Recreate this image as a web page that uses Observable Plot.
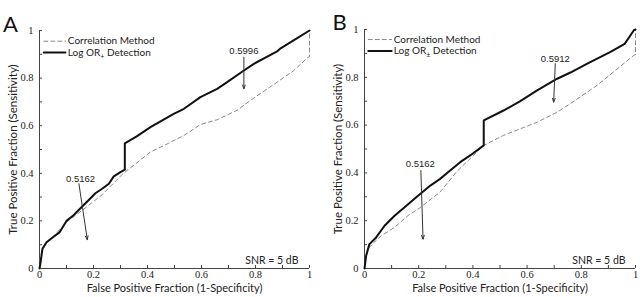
<!DOCTYPE html>
<html>
<head>
<meta charset="utf-8">
<script src="https://cdn.jsdelivr.net/npm/d3@7"></script>
<script src="https://cdn.jsdelivr.net/npm/@observablehq/plot@0.6"></script>
<style>
  body { margin: 0; background: #fff; }
  #wrap { display: flex; width: 640px; height: 297px; }
  #wrap > div { width: 320px; height: 297px; }
</style>
</head>
<body>
<div id="wrap"><div id="pa"></div><div id="pb"></div></div>
<script>
// ---------- data ----------
const ticks = [0, 0.1, 0.2, 0.3, 0.4, 0.5, 0.6, 0.7, 0.8, 0.9, 1];

// Panel A
const aSolidX = [0, 0.002, 0.004, 0.011, 0.026, 0.051, 0.075, 0.1, 0.125, 0.149, 0.186, 0.207, 0.232, 0.257, 0.275, 0.3, 0.316, 0.316, 0.36, 0.411, 0.497, 0.535, 0.596, 0.658, 0.695, 0.757, 0.794, 0.88, 0.893, 0.95, 1.0];
const aSolidY = [0, 0.012, 0.026, 0.083, 0.11, 0.132, 0.153, 0.2, 0.223, 0.25, 0.292, 0.316, 0.335, 0.356, 0.387, 0.405, 0.415, 0.526, 0.555, 0.594, 0.65, 0.671, 0.72, 0.755, 0.783, 0.832, 0.86, 0.912, 0.925, 0.965, 1.0];
const aDashX = [0, 0.003, 0.01, 0.03, 0.06, 0.1, 0.17, 0.232, 0.306, 0.356, 0.411, 0.467, 0.535, 0.596, 0.658, 0.732, 0.781, 0.88, 0.94, 0.995, 1.0, 1.0];
const aDashY = [0, 0.04, 0.08, 0.11, 0.145, 0.195, 0.255, 0.31, 0.395, 0.44, 0.49, 0.52, 0.559, 0.605, 0.625, 0.665, 0.706, 0.783, 0.83, 0.888, 0.89, 1.0];

// Panel B
const bSolidX = [0, 0.006, 0.018, 0.043, 0.074, 0.111, 0.148, 0.191, 0.243, 0.279, 0.316, 0.353, 0.39, 0.44, 0.44, 0.513, 0.575, 0.637, 0.711, 0.76, 0.822, 0.908, 0.96, 0.994, 1.0];
const bSolidY = [0, 0.053, 0.102, 0.13, 0.179, 0.221, 0.256, 0.298, 0.347, 0.375, 0.41, 0.445, 0.473, 0.515, 0.62, 0.661, 0.70, 0.745, 0.794, 0.82, 0.857, 0.906, 0.94, 0.997, 1.0];
const bDashX = [0, 0.004, 0.015, 0.04, 0.062, 0.111, 0.16, 0.206, 0.279, 0.34, 0.44, 0.513, 0.637, 0.711, 0.76, 0.858, 0.994, 1.0, 1.0];
const bDashY = [0, 0.045, 0.085, 0.115, 0.137, 0.172, 0.221, 0.255, 0.32, 0.405, 0.515, 0.557, 0.612, 0.654, 0.69, 0.766, 0.892, 0.895, 1.0];

// annotations: [label, textX, textY, arrowX1, arrowY1, arrowX2, arrowY2]
const aNotes = [["0.5996", 0.757, 0.916, 0.757, 0.888, 0.757, 0.755], ["0.5162", 0.152, 0.378, 0.146, 0.356, 0.177, 0.121]];
const bNotes = [["0.5912", 0.704, 0.878, 0.704, 0.857, 0.698, 0.696], ["0.5162", 0.206, 0.438, 0.208, 0.41, 0.216, 0.123]];

const legendLabels = {A: ["Correlation Method", "Log OR+ Detection"], B: ["Correlation Method", "Log OR± Detection"]};
const legendX = {A: [0.016, 0.096, 0.105], B: [0.014, 0.1, 0.108]};
const legendY = {A: [0.955, 0.908], B: [0.958, 0.91]};
const snrPos = {A: [0.959, 0.034], B: [0.963, 0.032]};

const xLabel = "False Positive Fraction (1-Specificity)";
const yLabel = "True Positive Fraction (Sensitivity)";

// ---------- chart ----------
const sans = "Lato, 'Noto Sans', sans-serif";
const serif = "'Liberation Serif', 'DejaVu Serif', serif";
const zip = (xs, ys) => xs.map((x, i) => ({x, y: ys[i]}));
const fmt = d => (Math.round(d * 10) % 2 === 0 ? String(+d.toFixed(1)) : "");

function panel(id, letter, solid, dash, notes, m) {
  const lx = legendX[letter], ly = legendY[letter], labs = legendLabels[letter];
  const legDash = [{x: lx[0], y: ly[0]}, {x: lx[1], y: ly[0]}];
  const legSolid = [{x: lx[0], y: ly[1]}, {x: lx[1], y: ly[1]}];
  const legText = labs.map((t, i) => ({x: lx[2], y: ly[i], t}));
  const chart = Plot.plot({
    width: 320, height: 297,
    marginLeft: m[0], marginRight: m[1], marginTop: m[2], marginBottom: m[3],
    x: {domain: [0, 1]}, y: {domain: [0, 1]},
    style: {background: "#fff"},
    marks: [
      Plot.axisX({ticks, tickFormat: fmt, tickSize: -3, tickPadding: 5, label: null, fontFamily: serif, fontSize: 10.5, stroke: "#444", fill: "#222"}),
      Plot.axisY({ticks, tickFormat: fmt, tickSize: -3, tickPadding: 9, label: null, fontFamily: serif, fontSize: 10.5, stroke: "#444", fill: "#222"}),
      Plot.ruleY([0], {stroke: "#444"}),
      Plot.ruleX([0], {stroke: "#444"}),
      Plot.line(dash, {x: "x", y: "y", stroke: "#8a8a8a", strokeWidth: 1, strokeDasharray: "4,3"}),
      Plot.line(solid, {x: "x", y: "y", stroke: "#111", strokeWidth: 2}),
      Plot.line(legDash, {x: "x", y: "y", stroke: "#8a8a8a", strokeWidth: 1, strokeDasharray: "4,3"}),
      Plot.line(legSolid, {x: "x", y: "y", stroke: "#111", strokeWidth: 2}),
      Plot.text(legText, {x: "x", y: "y", text: "t", textAnchor: "start", fontFamily: sans, fontSize: 10, fill: "#222"}),
      Plot.arrow(notes, {x1: d => d[3], y1: d => d[4], x2: d => d[5], y2: d => d[6], stroke: "#333", strokeWidth: 1, headLength: 6, headAngle: 40}),
      Plot.text(notes, {x: d => d[1], y: d => d[2], text: d => d[0], fontFamily: "'Liberation Sans', Arial, sans-serif", fontSize: 9.5, fill: "#222"}),
      Plot.text(["SNR = 5 dB"], {x: () => snrPos[letter][0], y: () => snrPos[letter][1], textAnchor: "end", fontFamily: sans, fontSize: 10.5, fill: "#222"}),
      Plot.text([xLabel], {frameAnchor: "bottom", textAnchor: "middle", dy: 23, fontFamily: sans, fontSize: 11, fill: "#222"}),
      Plot.text([yLabel], {frameAnchor: "left", textAnchor: "middle", dx: m[4], rotate: -90, fontFamily: sans, fontSize: 11.5, fill: "#222"}),
      Plot.text([letter], {frameAnchor: "top-left", textAnchor: "middle", dx: m[5], dy: m[6], fontFamily: sans, fontSize: 22, fill: "#111"})
    ]
  });
  // subscript for OR+ / OR±
  d3.select(chart).selectAll("text").each(function() {
    const s = this.textContent;
    const mm = /^(Log OR)([+±])( Detection)$/.exec(s);
    if (mm) {
      const el = d3.select(this);
      el.text(null);
      el.append("tspan").text(mm[1]);
      el.append("tspan").attr("font-size", 7).attr("dy", 3).text(mm[2]);
      el.append("tspan").attr("dy", -3).text(mm[3]);
    }
  });
  document.getElementById(id).appendChild(chart);
}

panel("pa", "A", zip(aSolidX, aSolidY), zip(aDashX, aDashY), aNotes, [39, 11, 30, 29, -26, -29, -14]);
panel("pb", "B", zip(bSolidX, bSolidY), zip(bDashX, bDashY), bNotes, [44, 5, 29, 29, -26, -25, -15]);
</script>
</body>
</html>
